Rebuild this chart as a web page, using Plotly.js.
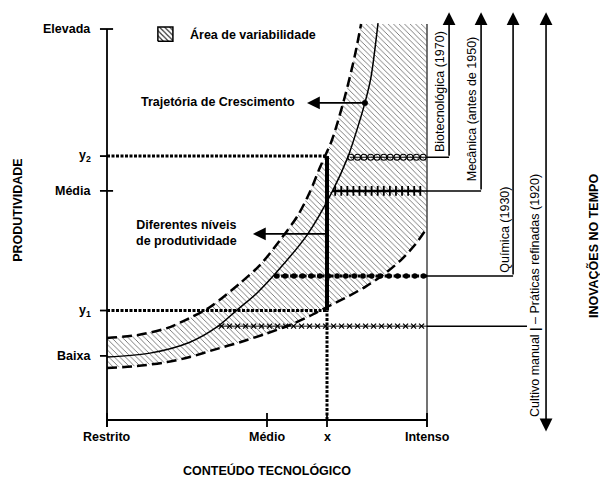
<!DOCTYPE html>
<html><head><meta charset="utf-8">
<script src="https://cdn.plot.ly/plotly-3.0.1.min.js"></script>
<style>html,body{margin:0;padding:0;background:#fff}#chart{width:600px;height:489px}</style>
</head><body><div id="chart"></div>
<script>
// ---- data (diagram units: x 0=Restrito .. 100=Intenso, y 0 .. 100=Elevada) ----
const xTickVals = [0, 50, 68.75, 100];
const xTickText = ['Restrito', 'Médio', 'x', 'Intenso'];
const yTickVals = [100, 67.5, 58.6, 28, 16.4];
const yTickText = ['Elevada', 'y<sub>2</sub>', 'Média', 'y<sub>1</sub>', 'Baixa'];

const trajX = [0, 13.4, 25.9, 34.4, 40.6, 46.9, 53.1, 62.5, 70.3, 75.3, 78.1, 80.6, 82.5, 84.7];
const trajY = [16.1, 17.1, 19.9, 23.8, 28.1, 32.5, 37.9, 47.3, 58.3, 67.3, 74.2, 81.1, 87.7, 101.5];

const upperX = [0, 9.4, 18.75, 25.9, 32.2, 41.6, 47.8, 54.1, 59.7, 63.4, 66.6, 70.3, 74.4, 77.5, 79.4];
const upperY = [21.0, 21.7, 23.5, 26.1, 28.9, 35.0, 39.6, 46.0, 52.4, 58.3, 64.7, 71.6, 82.9, 93.4, 101.3];

const lowerX = [0, 9.4, 18.75, 25.9, 34.4, 41.6, 49.4, 57.2, 63.4, 68.75, 74.4, 80.6, 86.25, 91.6, 96.25, 100];
const lowerY = [13.3, 13.8, 14.8, 16.1, 18.2, 19.9, 22.0, 24.3, 26.6, 28.9, 31.2, 34.0, 37.1, 40.7, 44.8, 49.1];

const xLevel = 68.75;          // "x"
const y1Level = 28, y2Level = 67.5;
const growthPoint = [80.6, 81.1];

const innovNames = ['Biotecnológica (1970)', 'Mecânica (antes de 1950)', 'Química (1930)', 'Cultivo manual <b>|</b> – Práticas refinadas (1920)'];
const innovY = [67.2, 58.6, 36.8, 24.0];
const innovStartX = [75.9, 70.6, 53.0, 34.4];
const innovArrowX = [106.9, 116.9, 126.9, 131.25];
const timeArrowX = 137.2;
const arrowTopY = 104.3, arrowBottomY = -3.3;

const bioMarkX = [76.2, 78.3, 80.3, 82.4, 84.4, 86.5, 88.5, 90.6, 92.6, 94.7, 96.7, 98.8];
const mecMarkX = [71.3, 73.2, 75.1, 77.0, 78.9, 80.8, 82.7, 84.6, 86.5, 88.4, 90.3, 92.2, 94.1, 96.0, 97.9];
const quiMarkX = [53.0, 55.7, 58.4, 61.1, 63.8, 66.5, 69.2, 71.9, 74.6, 77.3, 80.0, 82.7, 85.4, 88.1, 90.8, 93.5, 96.2, 98.9];
const culMarkX = [35.8, 38.3, 40.8, 43.3, 45.8, 48.3, 50.8, 53.3, 55.8, 58.3, 60.8, 63.3, 65.8, 68.3, 70.8, 73.3, 75.8, 78.3, 80.8, 83.3, 85.8, 88.3, 90.8, 93.3, 95.8, 98.3];

// ---- drawing ----
const FONT = 'Liberation Sans, Arial, sans-serif';
const K = '#000';
const hatch = {shape: '\\', size: 3.9, solidity: 0.2, fgcolor: '#5a5a5a', bgcolor: 'rgba(0,0,0,0)'};
const swatchHatch = {shape: '\\', size: 3.6, solidity: 0.3, fgcolor: '#222', bgcolor: 'rgba(0,0,0,0)'};
const dotted = '3px,1.5px';
const ln = (x, y, line, extra) => Object.assign({type: 'scatter', mode: 'lines', x: x, y: y, line: line, hoverinfo: 'skip'}, extra || {});
const rep = (arr, v) => arr.map(() => v);

const hatchX = upperX.concat([100], lowerX.slice().reverse());
const hatchY = upperY.concat([upperY[upperY.length - 1]], lowerY.slice().reverse());

const traces = [];
traces.push({type: 'scatter', mode: 'none', x: hatchX, y: hatchY, fill: 'toself', fillcolor: 'rgba(0,0,0,0)', fillpattern: hatch, hoverinfo: 'skip'});
// legend swatch
traces.push({type: 'scatter', mode: 'lines', x: [15.9, 20.6, 20.6, 15.9, 15.9], y: [96.9, 96.9, 100.5, 100.5, 96.9], fill: 'toself', fillcolor: 'rgba(0,0,0,0)', fillpattern: swatchHatch, line: {color: K, width: 1.5}, hoverinfo: 'skip'});

traces.push(ln(upperX, upperY, {color: K, width: 2.5, dash: '10px,5px', shape: 'spline', smoothing: 0.8}));
traces.push(ln(lowerX, lowerY, {color: K, width: 2.5, dash: '10px,5px', shape: 'spline', smoothing: 0.8}));
traces.push(ln(trajX, trajY, {color: K, width: 1.5, shape: 'spline', smoothing: 0.8}));

// right boundary (Intenso)
traces.push(ln([100, 100], [-1.8, upperY[upperY.length - 1]], {color: '#444', width: 1.5}));
// axes
traces.push(ln([0, 0], [-1.8, 100], {color: K, width: 1.8}));
traces.push(ln([0, 100], [0, 0], {color: K, width: 1.8}));
// ticks
const yTickIn = [1.9, 0.9, 1.9, 0, 0];
const tyx = [], tyy = [];
yTickVals.forEach((v, i) => { tyx.push(-2.2, yTickIn[i], null); tyy.push(v, v, null); });
traces.push(ln(tyx, tyy, {color: K, width: 1.8}));
const txx = [], txy = [];
xTickVals.forEach(v => { txx.push(v, v, null); txy.push(-1.8, 1.8, null); });
traces.push(ln(txx, txy, {color: K, width: 1.8}));

// y2 / y1 / x guides
traces.push(ln([0, xLevel], [y2Level, y2Level], {color: K, width: 3, dash: dotted}));
traces.push(ln([0, xLevel], [y1Level, y1Level], {color: K, width: 3, dash: dotted}));
traces.push(ln([xLevel, xLevel], [0, y1Level], {color: K, width: 3, dash: dotted}));
traces.push(ln([xLevel, xLevel], [y1Level, y2Level], {color: K, width: 4}));

// innovation level lines
traces.push(ln([innovStartX[0], 100], [innovY[0], innovY[0]], {color: K, width: 1}));
traces.push({type: 'scatter', mode: 'markers', x: bioMarkX, y: rep(bioMarkX, innovY[0]), marker: {symbol: 'circle-open', size: 6, color: K, line: {width: 1.1, color: K}}, hoverinfo: 'skip'});
traces.push(ln([innovStartX[1], 98], [innovY[1], innovY[1]], {color: K, width: 2.5}));
traces.push({type: 'scatter', mode: 'markers', x: mecMarkX, y: rep(mecMarkX, innovY[1]), marker: {symbol: 'line-ns-open', size: 7, color: K, line: {width: 1.8, color: K}}, hoverinfo: 'skip'});
traces.push(ln([innovStartX[2], 100], [innovY[2], innovY[2]], {color: K, width: 3, dash: dotted}));
traces.push({type: 'scatter', mode: 'markers', x: quiMarkX, y: rep(quiMarkX, innovY[2]), marker: {symbol: 'circle', size: 5.5, color: K}, hoverinfo: 'skip'});
traces.push(ln([innovStartX[3], 100], [innovY[3], innovY[3]], {color: K, width: 1}));
traces.push({type: 'scatter', mode: 'markers', x: culMarkX, y: rep(culMarkX, innovY[3]), marker: {symbol: 'x-thin-open', size: 5, color: K, line: {width: 1.3, color: K}}, hoverinfo: 'skip'});
// connectors to the time arrows
innovY.forEach((yv, i) => {
  const x0 = i === 1 ? 98 : 100;
  traces.push(ln([x0, innovArrowX[i]], [yv, yv], {color: K, width: 1.5}));
});
// growth point
traces.push({type: 'scatter', mode: 'markers', x: [growthPoint[0]], y: [growthPoint[1]], marker: {symbol: 'circle', size: 6, color: K}, hoverinfo: 'skip'});

// ---- annotations ----
const ann = [];
const bold = (size) => ({family: FONT, size: size || 12.5, color: K, weight: 700});
const reg = (size) => ({family: FONT, size: size || 12.5, color: K});
const arrow = (hx, hy, tx, ty, extra) => Object.assign({x: hx, y: hy, ax: tx, ay: ty, xref: 'x', yref: 'y', axref: 'x', ayref: 'y', text: '', showarrow: true, arrowhead: 2, arrowsize: 1.6, arrowwidth: 1.6, arrowcolor: K, standoff: 0, startstandoff: 0}, extra || {});

yTickVals.forEach((v, i) => ann.push({x: 0, y: v, xref: 'x', yref: 'y', xanchor: 'right', yanchor: 'middle', xshift: -14, text: yTickText[i], showarrow: false, font: bold()}));
xTickVals.forEach((v, i) => ann.push({x: v, y: -4.4, xref: 'x', yref: 'y', xanchor: 'center', yanchor: 'middle', text: xTickText[i], showarrow: false, font: bold()}));
ann.push({x: 50, y: -13.0, xref: 'x', yref: 'y', text: 'CONTEÚDO TECNOLÓGICO', showarrow: false, font: bold()});
ann.push({x: -27.7, y: 53.6, xref: 'x', yref: 'y', text: 'PRODUTIVIDADE', textangle: -90, showarrow: false, font: bold()});
ann.push({x: 151.9, y: 44.5, xref: 'x', yref: 'y', text: 'INOVAÇÕES NO TEMPO', textangle: -90, showarrow: false, font: bold()});
ann.push({x: 25.3, y: 98.7, xref: 'x', yref: 'y', xanchor: 'left', text: 'Área de variabilidade', showarrow: false, font: bold()});
ann.push({x: 34.8, y: 81.3, xref: 'x', yref: 'y', text: 'Trajetória de Crescimento', showarrow: false, font: bold()});
ann.push({x: 24.7, y: 47.8, xref: 'x', yref: 'y', text: 'Diferentes níveis<br>de produtividade', showarrow: false, font: bold()});

const innovLabelX = [104.1, 114.1, 124.1, 133.75];
const innovLabelY = [83.9, 79.5, 48.7, 31.7];
innovNames.forEach((t, i) => ann.push({x: innovLabelX[i], y: innovLabelY[i], xref: 'x', yref: 'y', text: t, textangle: -90, showarrow: false, font: reg()}));

for (let i = 0; i < 3; i++) ann.push(arrow(innovArrowX[i], arrowTopY, innovArrowX[i], innovY[i]));
ann.push(arrow(timeArrowX, arrowTopY, timeArrowX, arrowBottomY, {arrowside: 'end+start', startarrowhead: 2, startarrowsize: 1.6}));
ann.push(arrow(62.5, growthPoint[1], growthPoint[0], growthPoint[1]));
ann.push(arrow(45.6, 47.6, xLevel, 47.6));

const layout = {
  width: 600, height: 489, margin: {l: 0, r: 0, t: 0, b: 0},
  paper_bgcolor: '#fff', plot_bgcolor: '#fff', showlegend: false,
  font: {family: FONT, size: 12.5, color: K},
  xaxis: {range: [-33.4375, 154.0625], visible: false, fixedrange: true},
  yaxis: {range: [-17.65, 107.42], visible: false, fixedrange: true},
  annotations: ann
};
Plotly.newPlot('chart', traces, layout, {staticPlot: true, displayModeBar: false});
</script>
</body></html>
